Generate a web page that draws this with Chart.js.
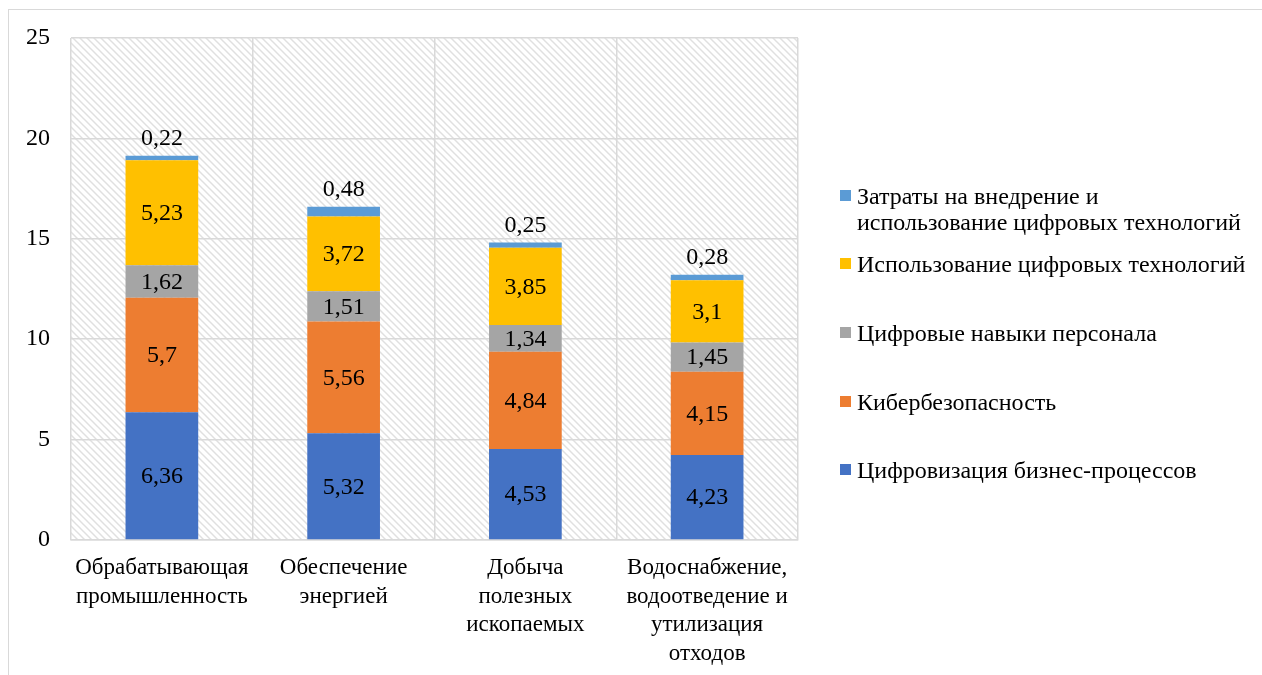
<!DOCTYPE html>
<html>
<head>
<meta charset="utf-8">
<script src="https://cdn.jsdelivr.net/npm/chart.js@4.4.1/dist/chart.umd.min.js"></script>
<style>
    html, body { margin: 0; padding: 0; background: #fff; }
    body { width: 1262px; height: 675px; position: relative; overflow: hidden; font-family: "Liberation Serif", "Times New Roman", serif; }
    #frame { position: absolute; left: 8px; top: 9px; width: 1300px; height: 700px; border-left: 1.5px solid #d9d9d9; border-top: 1.5px solid #d9d9d9; }
    #wrap { position: absolute; left: 0; top: 0; width: 1262px; height: 675px; }
    #legend { position: absolute; left: 840px; top: 0; }
    .legend-item { position: absolute; left: 0; white-space: pre; font-size: 24px; line-height: 26px; color: #000; padding-left: 17px; }
    .legend-box { position: absolute; left: 0; top: 7px; width: 11px; height: 11px; }
</style>
</head>
<body>
<div id="frame"></div>
<div id="wrap"><canvas id="digitalChart" width="1262" height="675"></canvas></div>
<div id="legend"></div>
<script>
// Categories (industries)
const categories = [
    ['Обрабатывающая', 'промышленность'],
    ['Обеспечение', 'энергией'],
    ['Добыча', 'полезных', 'ископаемых'],
    ['Водоснабжение,', 'водоотведение и', 'утилизация', 'отходов']
];

// Series, bottom of stack first
const seriesLabels = [
    'Цифровизация бизнес-процессов',
    'Кибербезопасность',
    'Цифровые навыки персонала',
    'Использование цифровых технологий',
    'Затраты на внедрение и\nиспользование цифровых технологий'
];
const businessProcesses = [6.36, 5.32, 4.53, 4.23];
const cyberSecurity = [5.7, 5.56, 4.84, 4.15];
const staffSkills = [1.62, 1.51, 1.34, 1.45];
const techUsage = [5.23, 3.72, 3.85, 3.1];
const techCosts = [0.22, 0.48, 0.25, 0.28];
const seriesColors = ['#4472C4', '#ED7D31', '#A5A5A5', '#FFC000', '#5B9BD5'];

const yTicks = [0, 5, 10, 15, 20, 25];

const FONT = '"Liberation Serif", "Times New Roman", serif';

function makeHatch() {
    const c = document.createElement('canvas');
    c.width = 7;
    c.height = 7;
    const g = c.getContext('2d');
    g.strokeStyle = '#e0e0e0';
    g.lineWidth = 1.5;
    g.beginPath();
    g.moveTo(-1, -1); g.lineTo(8, 8);
    g.moveTo(-1, 6); g.lineTo(1, 8);
    g.moveTo(6, -1); g.lineTo(8, 1);
    g.stroke();
    return g.createPattern(c, 'repeat');
}

const hatchBackground = {
    id: 'hatchBackground',
    beforeDraw(chart) {
        const { ctx, chartArea } = chart;
        ctx.save();
        ctx.fillStyle = '#fff';
        ctx.fillRect(chartArea.left, chartArea.top, chartArea.width, chartArea.height);
        ctx.fillStyle = makeHatch();
        ctx.fillRect(chartArea.left, chartArea.top, chartArea.width, chartArea.height);
        ctx.restore();
    }
};

function formatValue(v) {
    return String(v).replace('.', ',');
}

const barLabels = {
    id: 'barLabels',
    afterDatasetsDraw(chart) {
        const ctx = chart.ctx;
        const last = chart.data.datasets.length - 1;
        ctx.save();
        ctx.font = '24px ' + FONT;
        ctx.fillStyle = '#000';
        ctx.textAlign = 'center';
        ctx.textBaseline = 'middle';
        chart.data.datasets.forEach((ds, i) => {
            chart.getDatasetMeta(i).data.forEach((bar, j) => {
                const y = i === last ? bar.y - 18 : (bar.y + bar.base) / 2;
                ctx.fillText(formatValue(ds.data[j]), bar.x, y + 1);
            });
        });
        ctx.restore();
    }
};

const seriesData = [businessProcesses, cyberSecurity, staffSkills, techUsage, techCosts];

const ctx = document.getElementById('digitalChart').getContext('2d');
const chart = new Chart(ctx, {
    type: 'bar',
    data: {
        labels: categories,
        datasets: seriesData.map((data, i) => ({
            label: seriesLabels[i].replace('\n', ' '),
            data: data,
            backgroundColor: seriesColors[i],
            borderWidth: 0,
            categoryPercentage: 1,
            barPercentage: 0.4
        }))
    },
    options: {
        responsive: false,
        animation: false,
        devicePixelRatio: 1,
        layout: {
            padding: { left: 0, right: 464, top: 38, bottom: 0 }
        },
        plugins: {
            legend: { display: false },
            tooltip: { enabled: false }
        },
        scales: {
            x: {
                stacked: true,
                grid: { color: '#d9d9d9', lineWidth: 1.5, drawTicks: false },
                border: { color: '#d9d9d9', width: 1.5 },
                ticks: {
                    color: '#000',
                    font: { family: FONT, size: 23, lineHeight: '28.5px' },
                    padding: 14,
                    maxRotation: 0,
                    autoSkip: false
                },
                afterFit(scale) { scale.height = 135; }
            },
            y: {
                stacked: true,
                min: 0,
                max: 25,
                afterBuildTicks(scale) { scale.ticks = yTicks.map(v => ({ value: v })); },
                grid: { color: '#d9d9d9', lineWidth: 1.5, drawTicks: false },
                border: { display: false },
                ticks: {
                    color: '#000',
                    font: { family: FONT, size: 24 },
                    padding: 21
                },
                afterFit(scale) { scale.width = 71; }
            }
        }
    },
    plugins: [hatchBackground, barLabels]
});

// Legend, top series first
const legend = document.getElementById('legend');
const legendCenters = [196, 264, 333, 402, 470];
seriesLabels.slice().reverse().forEach((label, k) => {
    const idx = seriesLabels.length - 1 - k;
    const item = document.createElement('div');
    item.className = 'legend-item';
    item.style.top = (legendCenters[k] - 13) + 'px';
    item.textContent = label;
    const box = document.createElement('span');
    box.className = 'legend-box';
    box.style.background = seriesColors[idx];
    item.appendChild(box);
    legend.appendChild(item);
});
</script>
</body>
</html>
